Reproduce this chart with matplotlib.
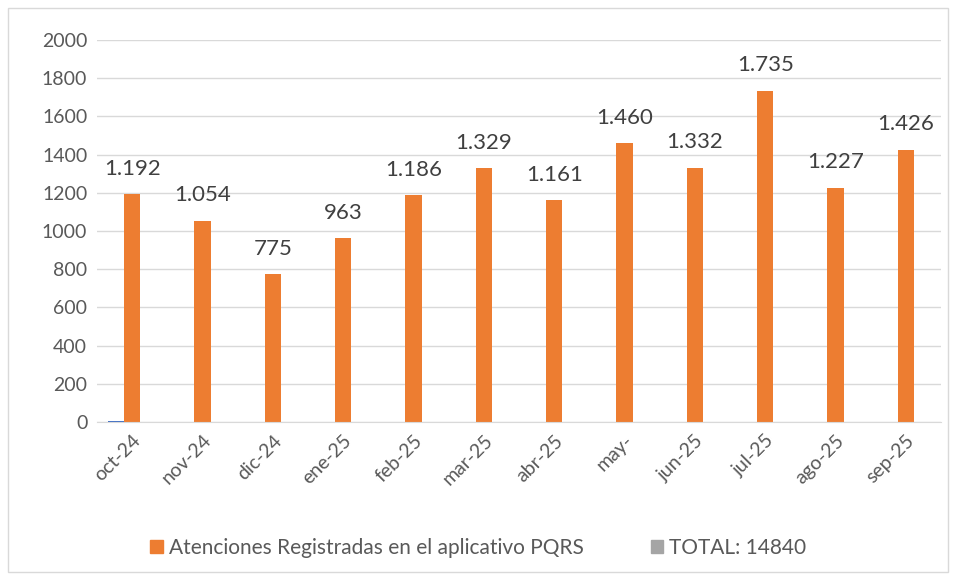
import numpy as np
import matplotlib.pyplot as plt
from matplotlib.patches import Patch, Rectangle

plt.rcParams['font.family'] = ['Lato', 'DejaVu Sans']

# Months shown on the x axis
meses = ['oct-24', 'nov-24', 'dic-24', 'ene-25', 'feb-25', 'mar-25',
         'abr-25', 'may-', 'jun-25', 'jul-25', 'ago-25', 'sep-25']

# Registered attentions per month
atenciones = [1192, 1054, 775, 963, 1186, 1329, 1161, 1460, 1332, 1735, 1227, 1426]

# Tiny blue series (only visible at oct-24) and empty total series
serie_azul = [7, 0, 0, 0, 0, 0, 0, 0, 0, 0, 0, 0]
total = [0] * 12

etiqueta_atenciones = 'Atenciones Registradas en el aplicativo PQRS'
etiqueta_total = 'TOTAL: 14840'

naranja = '#ED7D31'
azul = '#4472C4'
gris = '#A5A5A5'

fig = plt.figure(figsize=(9.57, 5.8), dpi=100)
ax = fig.add_axes([97 / 957, 1 - 422 / 580, (941 - 97) / 957, (422 - 40) / 580])

x = np.arange(len(meses))
w = 0.23
ax.bar(x - w, serie_azul, w, color=azul)
bars = ax.bar(x, atenciones, w, color=naranja)
ax.bar(x + w, total, w, color=gris)

for xi, v in zip(x, atenciones):
    txt = f'{v:,}'.replace(',', '.')
    ax.annotate(txt, (xi, v), xytext=(0, 11), textcoords='offset points',
                ha='center', va='bottom', fontsize=16, color='#404040')

ax.set_xlim(-0.5, len(meses) - 0.5)
ax.set_ylim(0, 2000)
ax.set_yticks(range(0, 2001, 200))
ax.yaxis.grid(True, color='#D9D9D9', linewidth=1)
ax.set_axisbelow(True)
for s in ['top', 'right', 'left']:
    ax.spines[s].set_visible(False)
ax.spines['bottom'].set_color('#D9D9D9')
ax.tick_params(axis='both', length=0, labelsize=14, colors='#595959', pad=7)
ax.set_xticks(x)
ax.set_xticklabels(meses, rotation=45, ha='right', rotation_mode='anchor')

handles = [Patch(color=naranja), Patch(color=gris)]
fig.legend(handles, [etiqueta_atenciones, etiqueta_total], loc='center',
           bbox_to_anchor=(0.5, 1 - 548 / 580), ncol=2, frameon=False,
           fontsize=15, handlelength=0.6, handleheight=0.6,
           handletextpad=0.3, columnspacing=3.2, labelcolor='#595959')

fig.patches.append(Rectangle((8 / 957, 8 / 580), 940 / 957, 564 / 580,
                             transform=fig.transFigure, fill=False,
                             edgecolor='#D9D9D9', linewidth=1))

fig.savefig('out.png', dpi=100)
